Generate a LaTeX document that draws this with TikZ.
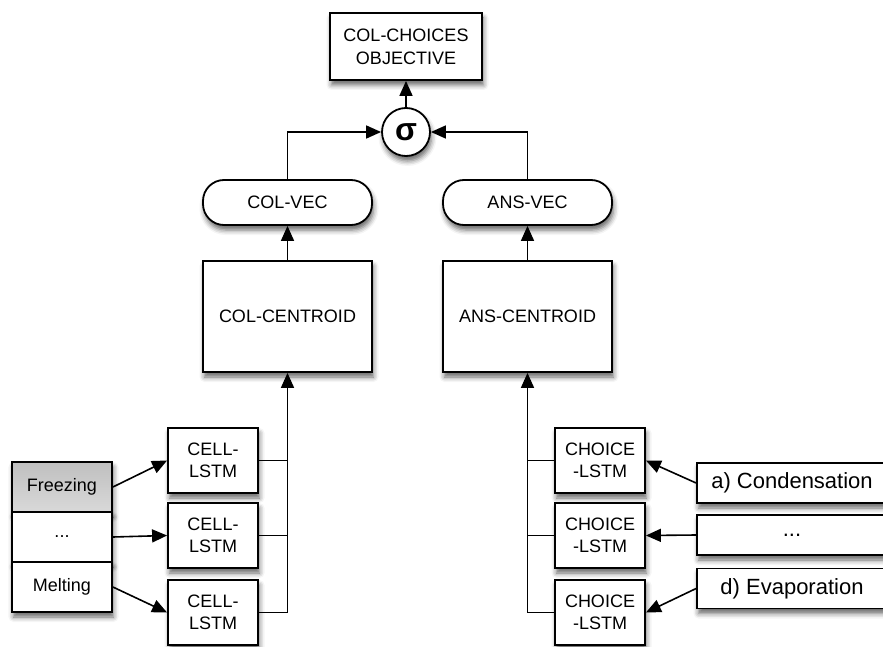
\documentclass[tikz,border=0pt]{standalone}
\usepackage{fontspec}
\setmainfont{Liberation Sans}
\usepackage{tikz}
\usetikzlibrary{arrows.meta}
\usetikzlibrary{calc}
\usetikzlibrary{shadows.blur}

\begin{document}
\begin{tikzpicture}[x=1pt,y=-1pt,
    font=\fontsize{18}{22}\selectfont,
    every node/.style={inner sep=0pt,align=center},
    unit/.style={draw,rectangle,line width=1.8pt,fill=white,
      blur shadow={shadow xshift=1.5pt,shadow yshift=-5pt,shadow blur radius=5pt,shadow opacity=60}},
    conn/.style={line width=1.6pt},
    >={Triangle[length=15pt,width=13pt]}]

  \useasboundingbox (0,0) rectangle (883,647);

  % top of the network
  \node [unit,minimum width=152pt,minimum height=67pt,font=\fontsize{18}{23}\selectfont] (obj) at (406,46.5) {COL-CHOICES\\OBJECTIVE};
  \node [unit,circle,minimum size=48pt] (sigma) at (406,132) {\fontsize{32}{32}\selectfont\bfseries σ};

  \node [unit,rounded corners=21pt,minimum width=169pt,minimum height=45pt] (colvec) at (287.5,202.5) {COL-VEC};
  \node [unit,rounded corners=21pt,minimum width=169pt,minimum height=45pt] (ansvec) at (527.5,202.5) {ANS-VEC};

  \node [unit,minimum width=169pt,minimum height=111pt] (colcen) at (287.5,316.5) {COL-CENTROID};
  \node [unit,minimum width=169pt,minimum height=111pt] (anscen) at (527.5,316.5) {ANS-CENTROID};

  % lstm cells
  \node [unit,minimum width=90pt,minimum height=65pt] (cell_0) at (213,460.5) {CELL-\\LSTM};
  \node [unit,minimum width=90pt,minimum height=65pt] (cell_1) at (213,535.5) {CELL-\\LSTM};
  \node [unit,minimum width=90pt,minimum height=65pt] (cell_2) at (213,612.5) {CELL-\\LSTM};

  \node [unit,minimum width=90pt,minimum height=65pt] (choice_0) at (600,460.5) {CHOICE\\-LSTM};
  \node [unit,minimum width=90pt,minimum height=65pt] (choice_1) at (600,535.5) {CHOICE\\-LSTM};
  \node [unit,minimum width=90pt,minimum height=65pt] (choice_2) at (600,612.5) {CHOICE\\-LSTM};

  % inputs
  \node [unit,minimum width=100pt,minimum height=50pt,top color=gray!50,middle color=gray!15,bottom color=gray!30] (word_0) at (62,487) {Freezing};
  \node [unit,minimum width=100pt,minimum height=50pt] (word_1) at (62,537) {...};
  \node [unit,minimum width=100pt,minimum height=50pt] (word_2) at (62,587) {Melting};

  \node [unit,minimum width=190pt,minimum height=40pt,font=\fontsize{22}{26}\selectfont] (ans_0) at (792,483) {a) Condensation};
  \node [unit,minimum width=190pt,minimum height=40pt,font=\fontsize{22}{26}\selectfont] (ans_1) at (792,535) {...};
  \node [unit,minimum width=190pt,minimum height=40pt,font=\fontsize{22}{26}\selectfont] (ans_2) at (792,588.5) {d) Evaporation};

  \path [conn,->]
    (sigma.north)  edge (obj.south)
    (colcen.north) edge (colvec.south)
    (anscen.north) edge (ansvec.south)

    (word_0.east) edge (cell_0.west)
    (word_1.east) edge (cell_1.west)
    (word_2.east) edge (cell_2.west)

    (ans_0.west) edge (choice_0.east)
    (ans_1.west) edge (choice_1.east)
    (ans_2.west) edge (choice_2.east);

  \draw [conn,->] (colvec.north) |- (sigma.west);
  \draw [conn,->] (ansvec.north) |- (sigma.east);

  % buses into the centroids
  \draw [conn] (cell_0.east) -- (cell_0.east -| colcen.south);
  \draw [conn] (cell_1.east) -- (cell_1.east -| colcen.south);
  \draw [conn,->] (cell_2.east) -| (colcen.south);

  \draw [conn] (choice_0.west) -- (choice_0.west -| anscen.south);
  \draw [conn] (choice_1.west) -- (choice_1.west -| anscen.south);
  \draw [conn,->] (choice_2.west) -| (anscen.south);

\end{tikzpicture}
\end{document}
